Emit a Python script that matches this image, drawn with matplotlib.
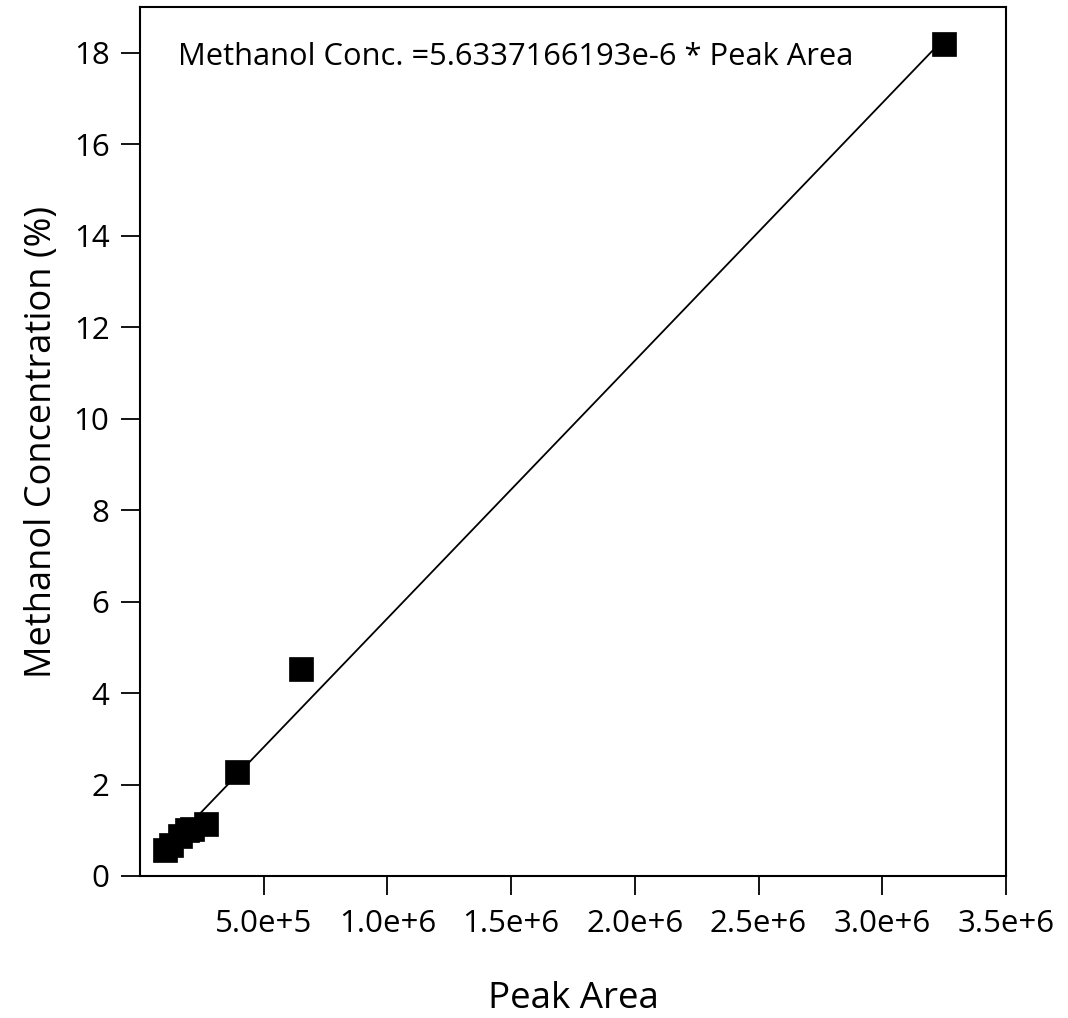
import matplotlib
matplotlib.use("Agg")
import matplotlib.pyplot as plt
import numpy as np
from matplotlib.ticker import FixedLocator, FuncFormatter

plt.rcParams['font.family'] = ['Open Sans', 'DejaVu Sans']

# Data
peak_area = [1.0e5, 1.25e5, 1.6e5, 1.9e5, 2.1e5, 2.65e5, 3.94e5, 6.52e5, 3.25e6]
methanol_conc = [0.57, 0.68, 0.88, 1.0, 1.02, 1.13, 2.28, 4.53, 18.19]
slope = 5.6337166193e-6
x_ticks = [5.0e5, 1.0e6, 1.5e6, 2.0e6, 2.5e6, 3.0e6, 3.5e6]
y_ticks = [0, 2, 4, 6, 8, 10, 12, 14, 16, 18]
equation = "Methanol Conc. =5.6337166193e-6 * Peak Area"

fig = plt.figure(figsize=(10.68, 10.18), dpi=100)
ax = fig.add_axes([0.1311, 0.1395, 0.8108, 0.8536])

fit_x = np.array([min(peak_area), max(peak_area)])
ax.plot(fit_x, slope * fit_x, color='black', lw=1.3, zorder=2)
ax.plot(peak_area, methanol_conc, linestyle='none', marker='s', markersize=17,
        markerfacecolor='black', markeredgecolor='black', markeredgewidth=0.5, zorder=3)

ax.set_xlim(0, 3.5e6)
ax.set_ylim(0, 19)
ax.xaxis.set_major_locator(FixedLocator(x_ticks))
ax.yaxis.set_major_locator(FixedLocator(y_ticks))

def fmt(v, pos):
    e = int(np.floor(np.log10(v)))
    m = v / 10 ** e
    return f"{m:.1f}e+{e}"

ax.xaxis.set_major_formatter(FuncFormatter(fmt))
ax.tick_params(axis='both', direction='out', length=14, width=1.3, labelsize=22.5, pad=8)
ax.tick_params(axis='x', pad=10)

for s in ax.spines.values():
    s.set_linewidth(1.5)

ax.set_xlabel("Peak Area", fontsize=26.5, labelpad=30)
ax.set_ylabel("Methanol Concentration (%)", fontsize=26, labelpad=10)

ax.text(0.044, 0.96, equation, transform=ax.transAxes, fontsize=22.2,
        ha='left', va='top')

fig.savefig("out.png", dpi=100)
